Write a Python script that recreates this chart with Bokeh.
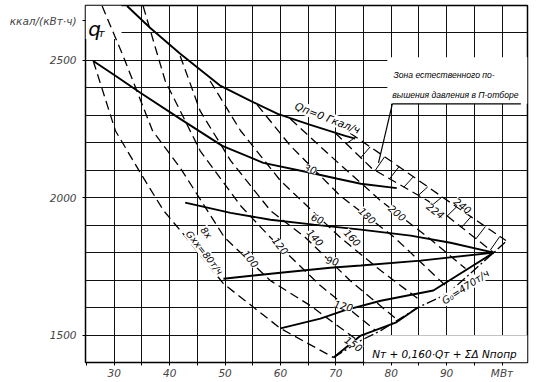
import numpy as np
from bokeh.plotting import figure
from bokeh.models import Range1d, FixedTicker
from bokeh.embed import file_html
from bokeh.resources import INLINE
from bokeh.core.properties import value

FONT = "DejaVu Sans"
FONT2 = "Liberation Sans"

# ---- solid curves: constant heat extraction Qп, Гкал/ч (x = MW, y = kcal/kWh)
q0_x = [32.3, 36.5, 41.9, 49.2, 54.6, 59.5, 65.4, 71.7, 73.5]
q0_y = [2698, 2618, 2524, 2407, 2353, 2305, 2265, 2225, 2215]
q30_x = [26.2, 30.2, 34.7, 41.9, 49.5, 56.9, 65.4, 70.3, 74.5, 81.0]
q30_y = [2498, 2444, 2382, 2287, 2189, 2127, 2091, 2069, 2051, 2035]
q60_x = [42.8, 51.0, 58.2, 66.0, 74.5, 83.5, 90.7, 98.5]
q60_y = [1982, 1945, 1920, 1902, 1884, 1862, 1836, 1800]
q90_x = [49.7, 60.0, 69.0, 74.5, 85.3, 98.5]
q90_y = [1705, 1727, 1745, 1753, 1771, 1800]
q120_x = [60.0, 67.2, 71.4, 78.1, 87.6, 98.5]
q120_y = [1524, 1560, 1589, 1625, 1662, 1800]
q150_x = [69.6, 74.5, 80.8, 84.8]
q150_y = [1418, 1498, 1545, 1600]

# ---- dashed curves: constant steam flow G0, т/ч
g80_x = [26.2, 30.2, 34.7, 38.9, 43.0, 49.7, 60.0, 69.6]
g80_y = [2498, 2244, 2091, 1953, 1855, 1687, 1524, 1418]
g100_x = [27.8, 31.6, 36.9, 41.9, 49.9, 58.2, 65.4, 73.5]
g100_y = [2698, 2516, 2244, 2109, 1855, 1698, 1607, 1487]
g120_x = [35.2, 39.2, 45.5, 52.8, 58.2, 67.2, 77.2]
g120_y = [2698, 2425, 2171, 1971, 1855, 1680, 1516]
g140_x = [41.9, 45.5, 51.0, 58.2, 64.5, 72.6, 80.8]
g140_y = [2516, 2316, 2135, 1953, 1855, 1698, 1560]
g160_x = [47.3, 52.8, 60.0, 70.8, 78.1, 85.3]
g160_y = [2425, 2244, 2062, 1855, 1735, 1625]
g180_x = [55.8, 61.8, 70.8, 80.6, 89.8]
g180_y = [2338, 2189, 2007, 1855, 1680]
g200_x = [61.8, 69.0, 78.1, 86.7, 93.4]
g200_y = [2287, 2153, 1989, 1855, 1742]
g224_x = [69.9, 76.6, 86.6, 98.5]
g224_y = [2236, 2105, 1989, 1800]
g240_x = [72.6, 80.4, 90.7, 100.7]
g240_y = [2235, 2127, 1982, 1844]

# ---- dash-dot limit line G0 = 470 т/ч
g470_x = [69.6, 74.5, 78.1, 84.8, 90.2, 98.5, 100.7]
g470_y = [1418, 1480, 1516, 1600, 1651, 1800, 1840]

# ---- labels
qlab_text = ["30", "60", "90", "120", "150"]
qlab_x = [65.4, 66.7, 69.4, 71.4, 73.2]
qlab_y = [2105, 1924, 1771, 1607, 1468]
qlab_ang = [-0.3, -0.4, -0.25, -0.25, -0.6]

glab_text = ["100", "120", "140", "160", "180", "200", "224", "240"]
glab_x = [54.6, 60.0, 66.3, 73.0, 75.7, 81.1, 88.0, 92.9]
glab_y = [1778, 1825, 1855, 1855, 1935, 1945, 1953, 1971]
glab_ang = [-0.9, -0.9, -0.85, -0.8, -0.75, -0.7, -0.65, -0.65]

xticks = list(range(25, 105, 5))
xtick_labels = {30: "30", 40: "40", 50: "50", 60: "60", 70: "70", 80: "80", 90: "90", 100: "МВт"}
yticks = [1500, 2000, 2500, 2645]
ytick_labels = {1500: "1500", 2000: "2000", 2500: "2500", 2645: "ккал/(кВт·ч)"}

X0, X1 = 24.8, 104.6
Y0, Y1 = 1400, 2700

p = figure(width=542, height=382, output_backend="svg", toolbar_location=None,
           x_range=Range1d(X0, X1), y_range=Range1d(Y0, Y1),
           min_border_left=85, min_border_right=15, min_border_top=5, min_border_bottom=20)
p.background_fill_color = "white"
p.border_fill_color = "white"
p.outline_line_color = "black"
p.outline_line_width = 1.5

p.xgrid.ticker = FixedTicker(ticks=list(range(30, 105, 5)))
p.ygrid.ticker = FixedTicker(ticks=list(range(1500, 2700, 100)))
for g in (p.xgrid, p.ygrid):
    g.grid_line_color = "#111111"
    g.grid_line_width = 1

p.xaxis.ticker = FixedTicker(ticks=xticks)
p.xaxis.major_label_overrides = {k: xtick_labels.get(k, "") for k in xticks}
p.xaxis.axis_line_color = None
p.xaxis.major_tick_out = 3
p.xaxis.major_tick_in = 0
p.xaxis.minor_tick_line_color = None
p.xaxis.major_label_text_font = FONT
p.xaxis.major_label_text_font_style = "italic"
p.xaxis.major_label_text_font_size = "10.5px"
p.xaxis.major_label_standoff = 1

p.yaxis.ticker = FixedTicker(ticks=yticks)
p.yaxis.major_label_overrides = ytick_labels
p.yaxis.axis_line_color = None
p.yaxis.major_tick_out = 3
p.yaxis.major_tick_in = 0
p.yaxis.minor_tick_line_color = None
p.yaxis.major_label_text_font = FONT
p.yaxis.major_label_text_font_style = "italic"
p.yaxis.major_label_text_font_size = "10.5px"
p.yaxis.major_label_standoff = 6

# white areas without grid
p.quad(left=[75.15, 79.3, X0], right=[X1, X1, 31.3], bottom=[Y0, 2342, 2578], top=[1499.5, 2512, Y1],
       fill_color="white", line_color=None)

# hatched zone between G0=224 and G0=240
rx = np.arange(73.6, 100.5, 2.6)
uy = np.interp(rx, g240_x, g240_y)
lx = rx - 1.7
ly = np.interp(lx, g224_x, g224_y)
p.segment(x0=rx, y0=uy, x1=lx, y1=ly, line_color="black", line_width=1)

dash_xs = [g80_x, g100_x, g120_x, g140_x, g160_x, g180_x, g200_x, g224_x, g240_x]
dash_ys = [g80_y, g100_y, g120_y, g140_y, g160_y, g180_y, g200_y, g224_y, g240_y]
p.multi_line(xs=dash_xs, ys=dash_ys, line_color="black", line_width=1.3, line_dash="9 5")

p.line(g470_x, g470_y, line_color="black", line_width=1.3, line_dash="10 3 2 3")

sol_xs = [q0_x, q30_x, q60_x, q90_x, q120_x, q150_x]
sol_ys = [q0_y, q30_y, q60_y, q90_y, q120_y, q150_y]
p.multi_line(xs=sol_xs, ys=sol_ys, line_color="black", line_width=1.9)

# leader & underline of annotation
p.line([80.2, 103.4], [2342, 2342], line_color="black", line_width=1.2)
p.line([80.2, 77.7], [2342, 2127], line_color="black", line_width=1.2)

txt = dict(text_font=value(FONT), text_font_style="italic", text_color="black",
           text_align="center", text_baseline="middle",
           background_fill_color="white", padding=0)
p.text(x=qlab_x, y=qlab_y, text=qlab_text, angle=qlab_ang, text_font_size="10px", **txt)
p.text(x=glab_x, y=glab_y, text=glab_text, angle=glab_ang, text_font_size="10px", **txt)
p.text(x=[68.5], y=[2291], text=["Qп=0 Гкал/ч"], angle=[-0.37], text_font_size="10.5px", **txt)
p.text(x=[46.3], y=[1800], text=["Gхх=80т/ч"], angle=[-0.9], text_font_size="9.5px", **txt)
p.text(x=[46.6], y=[1873], text=["8х"], angle=[-0.9], text_font_size="9.5px", **txt)
p.text(x=[93.4], y=[1675], text=["G₀=470т/ч"], angle=[0.58], text_font_size="10px", **txt)
p.text(x=[89.6], y=[1430], text=["Nт + 0,160·Qт + ΣΔ Nпопр"], angle=[0], text_font_size="10.5px", **txt)

ann = dict(text_font=value(FONT2), text_font_style="italic", text_color="black",
           text_align="left", text_baseline="middle", text_font_size="8.6px")
p.text(x=[80.4], y=[2447], text=["Зона естественного по-"], **ann)
p.text(x=[80.2], y=[2373], text=["вышения давления в П-отборе"], **ann)

# q_T symbol in the corner
sym = dict(text_font=value(FONT), text_font_style="italic", text_color="black",
           text_align="left", text_baseline="alphabetic")
p.text(x=[25.3], y=[2616], text=["q"], text_font_size="20px", **sym)
p.text(x=[27.1], y=[2598], text=["т"], text_font_size="11px", **sym)

open("out.html", "w").write(file_html(p, INLINE))
